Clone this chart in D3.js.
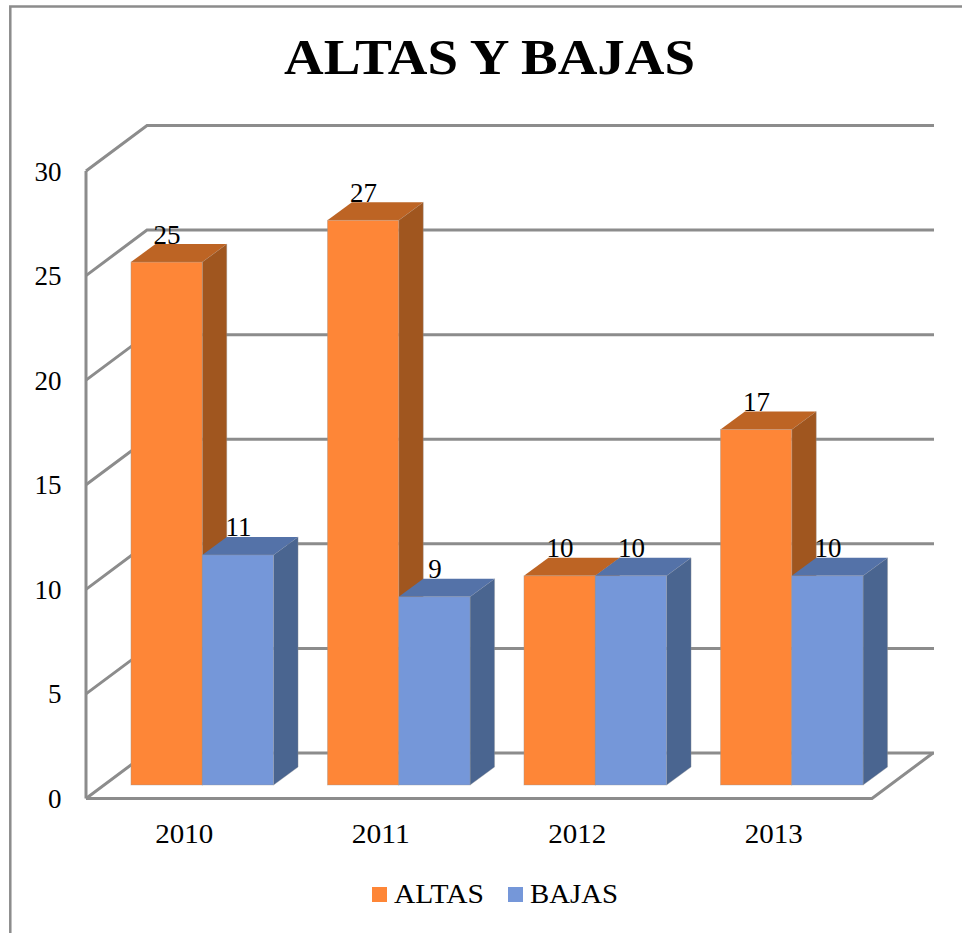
<!DOCTYPE html>
<html><head><meta charset="utf-8">
<script src="https://cdn.jsdelivr.net/npm/d3@7"></script>
<style>html,body{margin:0;padding:0;background:#fff}svg{display:block}text{font-family:"Liberation Serif",serif;fill:#000}</style>
</head><body><svg id="c" width="962" height="933"></svg>
<script>
const years = ["2010","2011","2012","2013"];
const altas = [25,27,10,17];
const bajas = [11,9,10,10];
const seriesNames = ["ALTAS","BAJAS"];
const yTicks = [0,5,10,15,20,25,30];
const faces = {
  ALTAS:{front:"#fe8637",top:"#bd6424",side:"#a0561f"},
  BAJAS:{front:"#7597d9",top:"#5472a8",side:"#4a6590"}
};
const gridColor = "#8c8c8c";
const svg = d3.select("#c");
const W=962,H=933;
const x = d3.scaleBand().domain(years).range([86,872]);
const yFront = d3.scaleLinear().domain([0,30]).range([798.5,171]);
const depthX = 61, depthY = -45.5;
const barDX = 24.5, barDY = -18, barW = 71.3, barBaseShift = -13.5, barCenterShift = 18;
const yBar = v => yFront(v)+barBaseShift;

// frame
svg.append("path").attr("d",d3.line()([[10.3,H],[10.3,6.5],[W,6.5]])).attr("fill","none").attr("stroke",gridColor).attr("stroke-width",2.5);

// title
svg.append("text").attr("x",284).attr("y",73.5).attr("font-size",51).attr("font-weight","bold")
  .attr("textLength",411).attr("lengthAdjust","spacingAndGlyphs").text("ALTAS Y BAJAS");

// walls & floor
const L=x.range()[0], R=x.range()[1];
const gl = svg.append("g").attr("fill","none").attr("stroke",gridColor).attr("stroke-width",3);
gl.selectAll("path.grid").data(yTicks).join("path").attr("class","grid")
  .attr("d",t=>d3.line()([[L,yFront(t)],[L+depthX,yFront(t)+depthY],[R+depthX+1,yFront(t)+depthY]]));
gl.append("path").attr("d",d3.line()([[L,yFront(0)],[L,yFront(30)]]));
gl.append("path").attr("d",d3.line()([[L,yFront(0)],[R,yFront(0)],[R+depthX,yFront(0)+depthY]]));

// y labels
svg.append("g").selectAll("text").data(yTicks).join("text")
  .attr("x",61.5).attr("y",t=>yFront(t)+9.5).attr("text-anchor","end").attr("font-size",27).text(d=>d);
// x labels
svg.append("g").selectAll("text").data(years).join("text")
  .attr("x",d=>x(d)+x.bandwidth()/2-29).attr("y",843).attr("font-size",27)
  .attr("textLength",58).attr("lengthAdjust","spacingAndGlyphs").text(d=>d);

// bars
const edge="rgba(150,150,150,0.45)";
function bar(g,x0,v,f){
  const x1=x0+barW, yt=yBar(v), yb=yBar(0);
  g.append("path").attr("fill",f.side).attr("stroke",edge).attr("stroke-width",0.8).attr("d",d3.line()([[x1,yt],[x1+barDX,yt+barDY],[x1+barDX,yb+barDY],[x1,yb]])+"Z");
  g.append("path").attr("fill",f.top).attr("d",d3.line()([[x0,yt],[x0+barDX,yt+barDY],[x1+barDX,yt+barDY],[x1,yt]])+"Z");
  g.append("rect").attr("x",x0).attr("y",yt).attr("width",barW).attr("height",yb-yt).attr("fill",f.front).attr("stroke",edge).attr("stroke-width",0.8);
}
const gb=svg.append("g");
years.forEach((yr,i)=>{
  const c=x(yr)+x.bandwidth()/2+barCenterShift;
  bar(gb,c-barW,altas[i],faces.ALTAS);
  bar(gb,c,bajas[i],faces.BAJAS);
});
// value labels
const gv=svg.append("g").attr("font-size",27).attr("text-anchor","middle");
years.forEach((yr,i)=>{
  const c=x(yr)+x.bandwidth()/2+barCenterShift;
  gv.append("text").attr("x",c-barW/2+0.5).attr("y",yBar(altas[i])-18.5).text(altas[i]);
  gv.append("text").attr("x",c+barW/2+0.5).attr("y",yBar(bajas[i])-18.5).text(bajas[i]);
});
// legend
const legX=[372,508];
const legLen=[90,88];
const lg=svg.append("g");
seriesNames.forEach((n,i)=>{
  lg.append("rect").attr("x",legX[i]).attr("y",887).attr("width",15).attr("height",15).attr("fill",faces[n].front);
  lg.append("text").attr("x",legX[i]+22).attr("y",903).attr("font-size",27)
    .attr("textLength",legLen[i]).attr("lengthAdjust","spacingAndGlyphs").text(n);
});
</script></body></html>
